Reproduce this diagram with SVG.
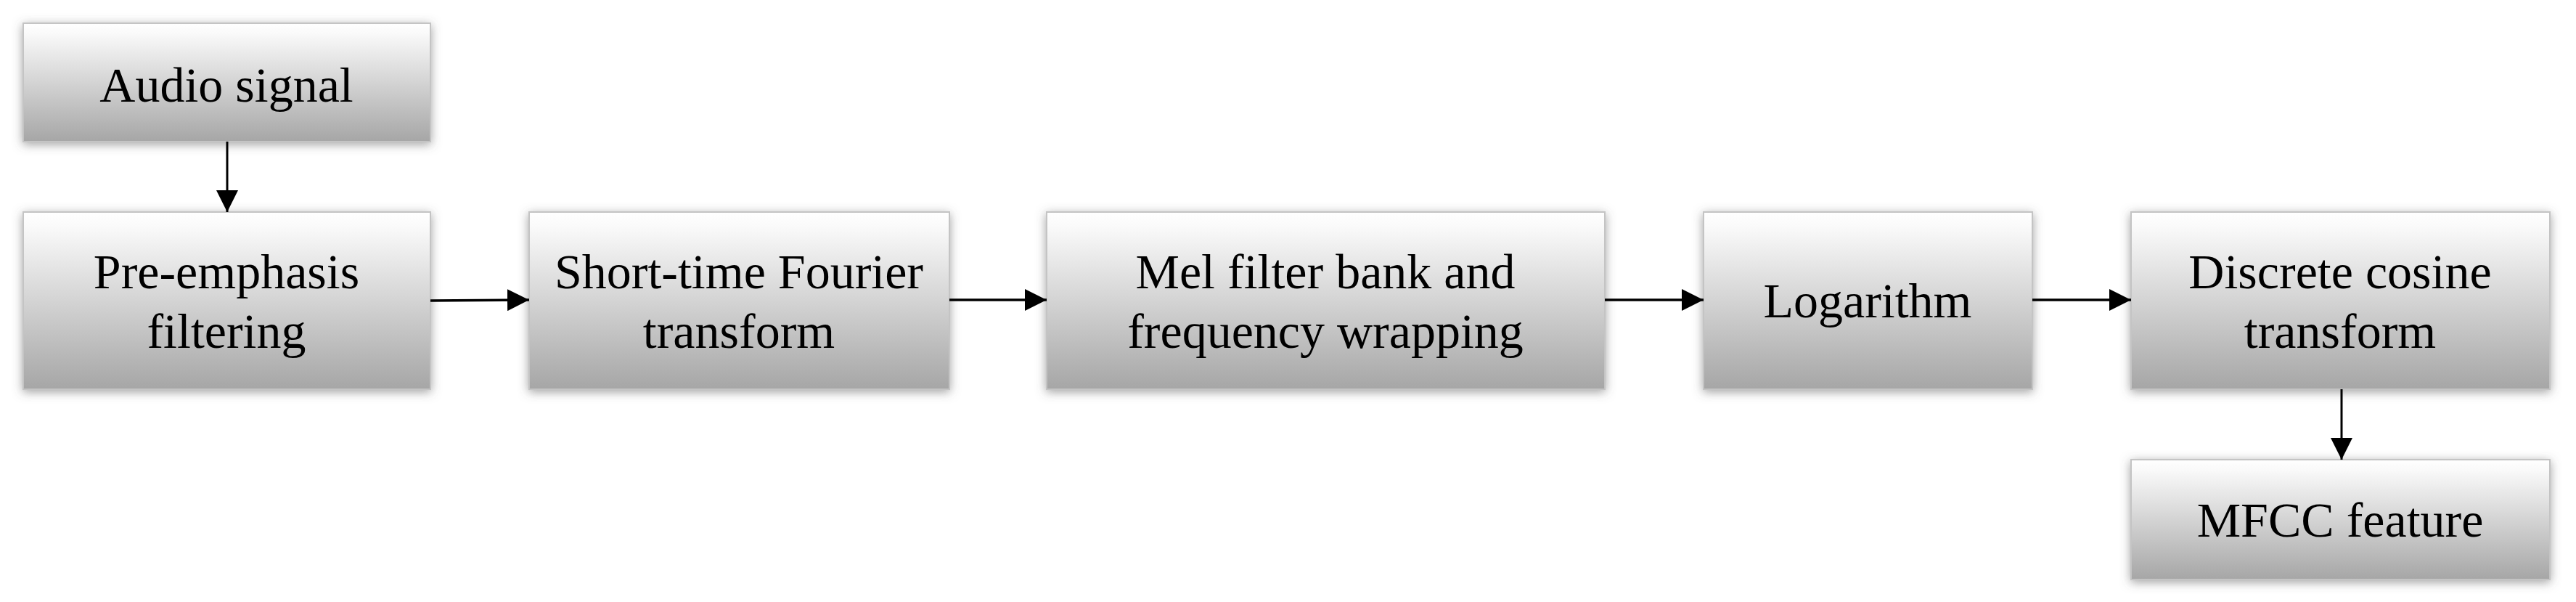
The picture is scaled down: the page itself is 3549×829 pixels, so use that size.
<svg xmlns="http://www.w3.org/2000/svg" width="3549" height="829" viewBox="0 0 3549 829">
<defs>
<linearGradient id="g" x1="0" y1="0" x2="0" y2="1">
<stop offset="0" stop-color="#ffffff"/>
<stop offset="0.08" stop-color="#fafafa"/>
<stop offset="1" stop-color="#a6a6a6"/>
</linearGradient>
<filter id="sh" x="-10%" y="-20%" width="120%" height="140%">
<feDropShadow dx="0" dy="3" stdDeviation="7" flood-color="#555" flood-opacity="0.55"/>
</filter>
<marker id="ah" markerUnits="userSpaceOnUse" markerWidth="32" markerHeight="30" refX="30" refY="15" orient="auto">
<path d="M0,0 L30,15 L0,30 Z" fill="#000"/>
</marker>
</defs>
<style>
.box{fill:url(#g);stroke:#c4c4c4;stroke-width:2;filter:url(#sh)}
.t{font-family:"Liberation Serif","Times New Roman",serif;font-size:68px;fill:#000;text-anchor:middle}
.c{fill:none;stroke:#000;stroke-width:3.5;marker-end:url(#ah)}
.cv{fill:none;stroke:#000;stroke-width:3;marker-end:url(#ah)}
</style>
<rect width="3549" height="829" fill="#fff"/>
<g id="audio"><rect class="box" x="32" y="32" width="561" height="163"/><text class="t" x="312" y="140">Audio signal</text></g>
<g id="preemphasis"><rect class="box" x="32" y="292" width="561" height="244"/><text class="t" x="312" y="397">Pre-emphasis</text><text class="t" x="312" y="479">filtering</text></g>
<g id="stft"><rect class="box" x="729" y="292" width="579" height="244"/><text class="t" x="1018" y="397">Short-time Fourier</text><text class="t" x="1018" y="479">transform</text></g>
<g id="mel"><rect class="box" x="1442" y="292" width="769" height="244"/><text class="t" x="1826" y="397">Mel filter bank and</text><text class="t" x="1826" y="479">frequency wrapping</text></g>
<g id="log"><rect class="box" x="2347" y="292" width="453" height="244"/><text class="t" x="2573" y="437">Logarithm</text></g>
<g id="dct"><rect class="box" x="2936" y="292" width="577" height="244"/><text class="t" x="3224" y="397">Discrete cosine</text><text class="t" x="3224" y="479">transform</text></g>
<g id="mfcc"><rect class="box" x="2936" y="633" width="577" height="165"/><text class="t" x="3224" y="739">MFCC feature</text></g>
<g id="connectors">
<line class="cv" x1="313" y1="195" x2="313" y2="292"/>
<line class="c" x1="593" y1="414" x2="729" y2="413"/>
<line class="c" x1="1308" y1="413" x2="1442" y2="413"/>
<line class="c" x1="2211" y1="413" x2="2347" y2="413"/>
<line class="c" x1="2800" y1="413" x2="2936" y2="413"/>
<line class="cv" x1="3226" y1="536" x2="3226" y2="633"/>
</g>
</svg>
